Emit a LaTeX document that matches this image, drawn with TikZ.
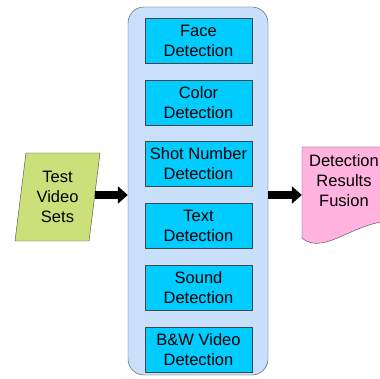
\documentclass[tikz,border=0pt]{standalone}
\usepackage{fontspec}
\setmainfont{Liberation Sans}
\usepackage{xcolor}
\usetikzlibrary{shapes.geometric, arrows.meta}
\definecolor{setColor}{RGB}{204, 224, 122}
\definecolor{panelColor}{RGB}{200, 224, 252}
\definecolor{detectColor}{RGB}{0, 204, 255}
\definecolor{fusionColor}{RGB}{255, 179, 222}
\definecolor{edgeColor}{RGB}{70, 70, 70}

\begin{document}
\begin{tikzpicture}[x=1pt, y=-1pt, font=\fontsize{16.5}{20}\selectfont,
    detector/.style={draw=edgeColor, fill=detectColor, minimum width=107pt, minimum height=45pt, align=center, inner sep=0pt},
    bigarrow/.style={line width=8pt, -{Triangle[length=10pt, width=17pt]}}]
    % Canvas (the fusion sheet runs off the right edge)
    \clip (0,0) rectangle (380,379);

    % Panel holding all detectors
    \node[draw=edgeColor, fill=panelColor, rounded corners=16pt, minimum width=140pt, minimum height=368pt] (panel) at (198,191) {};

    % Detectors, top to bottom
    \foreach \name/\txt [count=\i from 0] in {face/{Face\\Detection}, color/{Color\\Detection}, shot/{Shot Number\\Detection}, text/{Text\\Detection}, sound/{Sound\\Detection}, bw/{B\&W Video\\Detection}}
        \node[detector] (\name) at (198.5, 40.5+61.8*\i) {\txt};

    % Input: test video sets
    \node[trapezium, trapezium left angle=78, trapezium right angle=102, trapezium stretches body, draw=edgeColor, fill=setColor, minimum width=85pt, minimum height=88pt, align=center, inner sep=0pt] (testset) at (57.5,197) {Test\\Video\\Sets};

    % Output: fusion sheet with wavy bottom
    \draw[draw=edgeColor, fill=fusionColor] (302,147) -- (400,147) -- (400,222) .. controls (360,215) and (325,258) .. (302,238) -- cycle;
    \node[text width=84pt, align=center, inner sep=0pt] (fusion) at (344,181) {Detection\\Results\\Fusion};

    % Flow arrows, all on one line
    \coordinate (flow) at (0,195);
    \draw[bigarrow] (testset.east |- flow) -- (panel.west |- flow);
    \draw[bigarrow] (panel.east |- flow) -- (fusion.west |- flow);
\end{tikzpicture}
\end{document}
